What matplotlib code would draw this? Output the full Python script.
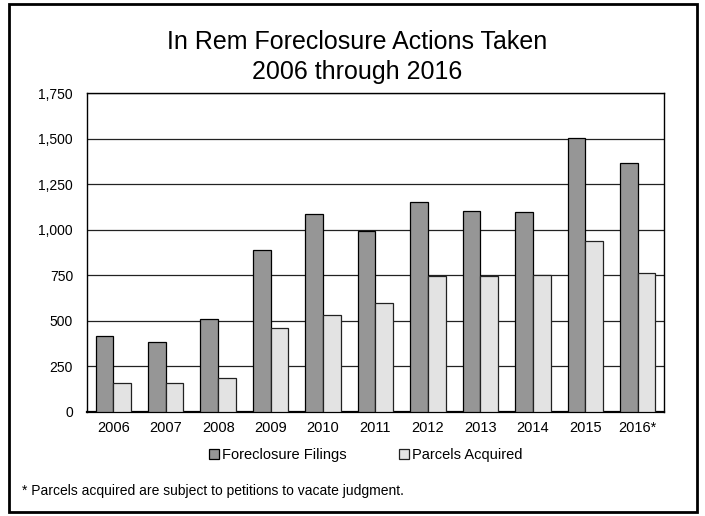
import matplotlib
matplotlib.use("Agg")
import matplotlib.pyplot as plt
import numpy as np
from matplotlib.patches import Rectangle
from matplotlib.ticker import FuncFormatter

plt.rcParams["font.family"] = ["Liberation Sans", "DejaVu Sans"]

years = ["2006", "2007", "2008", "2009", "2010", "2011", "2012", "2013", "2014", "2015", "2016*"]
filings = [416, 384, 508, 890, 1089, 992, 1151, 1102, 1096, 1508, 1366]
acquired = [159, 156, 183, 460, 532, 598, 748, 746, 750, 937, 764]
y_ticks = [0, 250, 500, 750, 1000, 1250, 1500, 1750]

fig = plt.figure(figsize=(7.05, 5.16), dpi=100)
ax = fig.add_axes([0.1234, 0.2021, 0.8184, 0.6167])

x = np.arange(len(years))
w = 0.337
ax.bar(x - w / 2, filings, w, color="#969696", edgecolor="black", linewidth=0.9,
       label="Foreclosure Filings", zorder=3)
ax.bar(x + w / 2, acquired, w, color="#e3e3e3", edgecolor="#222222", linewidth=0.9,
       label="Parcels Acquired", zorder=3)

ax.set_xlim(-0.5, len(years) - 0.5)
ax.set_ylim(0, 1750)
ax.set_yticks(y_ticks)
ax.yaxis.set_major_formatter(FuncFormatter(lambda v, _: f"{int(v):,}"))
ax.set_xticks(x)
ax.set_xticklabels(years)
ax.tick_params(axis="both", length=0, labelsize=10)
ax.tick_params(axis="x", labelsize=10.5, pad=7)
ax.tick_params(axis="y", pad=10)
ax.grid(axis="y", color="#222222", linewidth=0.9, zorder=0)
for s in ax.spines.values():
    s.set_color("black")
    s.set_linewidth(1.0)
ax.spines["bottom"].set_linewidth(1.6)

fig.text(0.507, 0.889, "In Rem Foreclosure Actions Taken\n2006 through 2016",
         ha="center", va="center", fontsize=18, linespacing=1.3)

fig.legend(loc="center", bbox_to_anchor=(0.519, 0.118), ncol=2, frameon=False,
           fontsize=10.5, handlelength=0.7, handleheight=0.7, handletextpad=0.2,
           columnspacing=3.6)

fig.text(0.031, 0.049, "* Parcels acquired are subject to petitions to vacate judgment.",
         ha="left", va="center", fontsize=10)

# outer frame around the whole chart
fig.patches.append(Rectangle((0.013, 0.008), 0.975, 0.984, transform=fig.transFigure,
                             fill=False, edgecolor="black", linewidth=2))

fig.savefig("out.png", dpi=100)
